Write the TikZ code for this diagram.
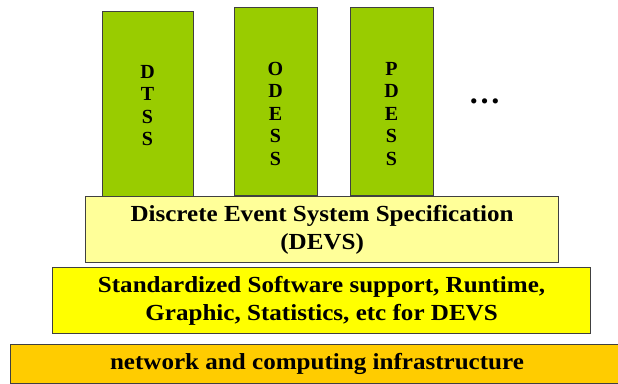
\documentclass[tikz,border=0pt]{standalone}
\usepackage{fontspec}
\setmainfont{Liberation Serif}
\newfontfamily\stackfont[FakeStretch=1.09]{Liberation Serif}
\usetikzlibrary{positioning}

\definecolor{modelgreen}{HTML}{99CC00}
\definecolor{devsyellow}{HTML}{FFFF99}
\definecolor{supportyellow}{HTML}{FFFF00}
\definecolor{netorange}{HTML}{FFCC00}

\tikzset{
  layer/.style = {draw=black!75, line width=1.2pt, anchor=north west,
    inner sep=0pt, align=center, font=\stackfont\bfseries\fontsize{23}{28.5}\selectfont},
  formalism/.style = {draw=black!75, line width=1.2pt, fill=modelgreen,
    anchor=north west, inner sep=0pt},
  letters/.style = {anchor=north, align=center, inner sep=0pt,
    font=\bfseries\fontsize{20}{22.5}\selectfont}
}

\begin{document}
\begin{tikzpicture}[x=1pt, y=-1pt]
  \useasboundingbox (0,0) rectangle (618,383);

  % modelling formalisms on top of DEVS
  \node[formalism, minimum width=91pt, minimum height=185pt] (dtss) at (102,10.5) {};
  \node[formalism, minimum width=83pt, minimum height=188pt] (odess) at (234,7) {};
  \node[formalism, minimum width=83pt, minimum height=188pt] (pdess) at (350,7) {};

  \node[letters] (dtsslabel) at (147.5,65) {D\\T\\S\\S};
  \node[letters] (odesslabel) at (275.5,62) {O\\D\\E\\S\\S};
  \node[letters] (pdesslabel) at (391.5,62) {P\\D\\E\\S\\S};
  \node[font=\bfseries\fontsize{32}{32}\selectfont] (more) at (484.5,101) {\dots};

  % layered stack
  \node[layer, fill=devsyellow, minimum width=473pt, minimum height=66pt] (devs) at (85,196)
    {Discrete Event System Specification\\(DEVS)};
  \node[layer, fill=supportyellow, minimum width=538pt, minimum height=66pt] (support) at (52,267)
    {Standardized Software support, Runtime,\\Graphic, Statistics, etc for DEVS};
  \node[layer, fill=netorange, minimum width=620pt, minimum height=39pt] (network) at (10,344) {};
  \node[font=\stackfont\bfseries\fontsize{23}{27}\selectfont] (netlabel) at (317,364)
    {network and computing infrastructure};
\end{tikzpicture}
\end{document}
